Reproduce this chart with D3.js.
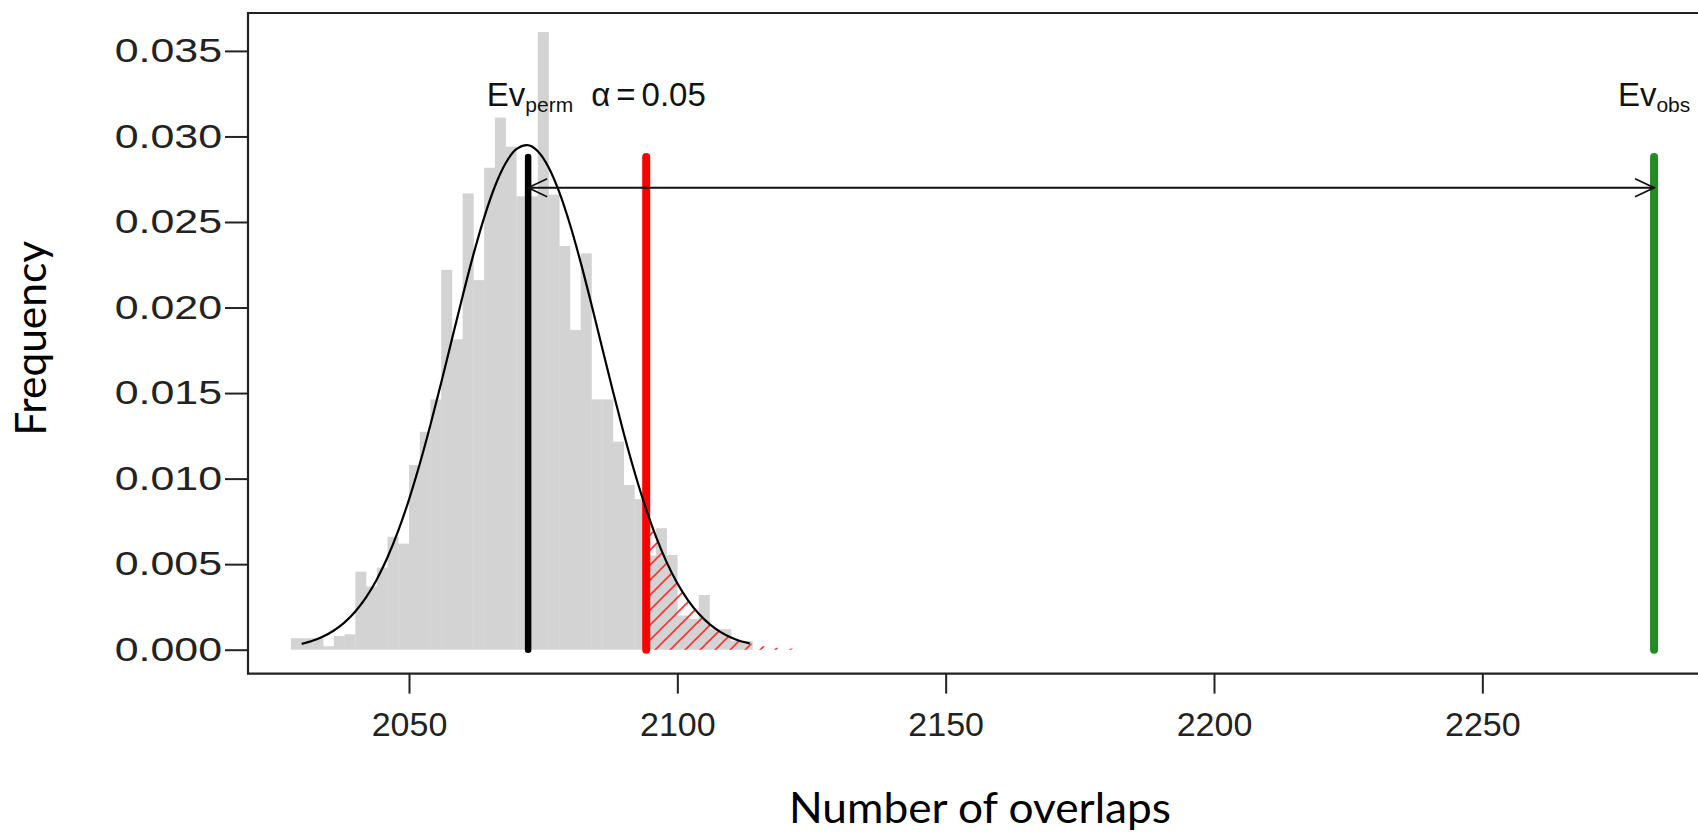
<!DOCTYPE html>
<html>
<head>
<meta charset="utf-8">
<script src="https://cdn.jsdelivr.net/npm/d3@7"></script>
<style>
  html, body { margin: 0; padding: 0; background: #ffffff; }
  svg { display: block; }
</style>
</head>
<body>
<svg id="chart" width="1698" height="839"></svg>
<script>
// ---------------- data ----------------
// histogram bin centres (bin width 2) and densities
const binCenters = [2029, 2031, 2033, 2035, 2037, 2039, 2041, 2043, 2045, 2047, 2049,
  2051, 2053, 2055, 2057, 2059, 2061, 2063, 2065, 2067, 2069, 2071, 2073, 2075, 2077,
  2079, 2081, 2083, 2085, 2087, 2089, 2091, 2093, 2095, 2097, 2099, 2101, 2103, 2105,
  2107, 2109, 2111, 2113];
const binDensity = [0.00067, 0.00067, 0.00067, 0.0002, 0.0008, 0.0009, 0.00456, 0.0037, 0.0048, 0.0066, 0.0062,
  0.0108, 0.01274, 0.01463, 0.0222, 0.01814, 0.02667, 0.0216, 0.02817, 0.0311, 0.0294, 0.0265, 0.0265, 0.0361, 0.0266,
  0.0236, 0.01869, 0.02317, 0.01463, 0.01463, 0.01216, 0.00963, 0.0088, 0.0055, 0.0071, 0.00553, 0.0020, 0.0018, 0.0032,
  0.0012, 0.0012, 0.0005, 0.0005];
const binWidth = 2;

// fitted density curve
const curveX = [2030, 2032, 2034, 2036, 2038, 2040, 2042, 2044, 2046, 2048, 2050, 2052, 2054, 2056, 2058,
  2060, 2062, 2064, 2066, 2068, 2070, 2072, 2074, 2076, 2078, 2080, 2082, 2084, 2086, 2088, 2090,
  2092, 2094, 2096, 2098, 2100, 2102, 2104, 2106, 2108, 2110, 2112, 2113.5];
const curveY = [0.000342, 0.000519, 0.000771, 0.001122, 0.0016, 0.002236, 0.003062, 0.004108, 0.0054, 0.006955,
  0.008776, 0.010851, 0.013147, 0.015603, 0.018148, 0.02068, 0.02309, 0.025259, 0.027074, 0.028433, 0.029257,
  0.029497, 0.029138, 0.028202, 0.026744, 0.02485, 0.022623, 0.02018, 0.017637, 0.015103, 0.012672, 0.010418,
  0.008391, 0.006622, 0.005121, 0.00388, 0.00288, 0.002095, 0.001493, 0.001042, 0.000713, 0.000478, 0.00037];
// thin tail of the rejection region beyond the drawn curve
const tailX = [2116, 2118, 2120, 2122];
const tailY = [0.0002, 0.00013, 0.00008, 0.00005];

// reference lines
const evPerm = 2072.2;     // mean of permutations
const alphaCut = 2094.2;   // alpha = 0.05 threshold
const evObs = 2282;        // observed value
const lineTop = 0.0288;
const arrowLevel = 0.027;

const xTicks = [2050, 2100, 2150, 2200, 2250];
const yTicks = [0, 0.005, 0.010, 0.015, 0.020, 0.025, 0.030, 0.035];
const xTitle = "Number of overlaps";
const yTitle = "Frequency";

// ---------------- layout ----------------
const svg = d3.select("#chart");
const plotLeft = 248, plotTop = 13, plotBottom = 673.6, plotRight = 1720;
const x = d3.scaleLinear().domain([2020, 2290]).range([248, 1697]);
const y = d3.scaleLinear().domain([0, 0.035]).range([649.7, 50.9]);
const rFont = "'Liberation Sans', Arial, sans-serif";
const titleFont = "Lato, 'Open Sans', sans-serif";

// hatch pattern
const defs = svg.append("defs");
const pat = defs.append("pattern").attr("id", "hatch")
  .attr("patternUnits", "userSpaceOnUse").attr("width", 15).attr("height", 15);
pat.append("path").attr("d", "M-2,2 L2,-2 M0,15 L15,0 M13,17 L17,13")
  .attr("stroke", "#ff3030").attr("stroke-width", 1.6).attr("fill", "none");

// histogram bars
svg.append("g").selectAll("rect")
  .data(binCenters.map((c, i) => ({ c, v: binDensity[i] })))
  .join("rect")
  .attr("x", d => x(d.c - binWidth / 2))
  .attr("width", d => x(d.c + binWidth / 2) - x(d.c - binWidth / 2) + 0.3)
  .attr("y", d => y(d.v))
  .attr("height", d => y(0) - y(d.v))
  .attr("fill", "#d3d3d3");

// hatched rejection region
const curvePts = curveX.map((v, i) => ({ x: v, y: curveY[i] }));
const hatchPts = curvePts.filter(p => p.x >= 2094)
  .concat(tailX.map((v, i) => ({ x: v, y: tailY[i] })));
svg.append("path")
  .datum(hatchPts)
  .attr("d", d3.area().x(d => x(d.x)).y0(y(0)).y1(d => y(d.y)).curve(d3.curveMonotoneX))
  .attr("fill", "url(#hatch)");

// vertical lines
const vlines = [
  { v: evPerm, color: "#000000", w: 6.5 },
  { v: alphaCut, color: "#ff0000", w: 8 },
  { v: evObs, color: "#228b22", w: 8 }
];
svg.append("g").selectAll("line").data(vlines).join("line")
  .attr("x1", d => x(d.v)).attr("x2", d => x(d.v))
  .attr("y1", y(0)).attr("y2", y(lineTop))
  .attr("stroke", d => d.color).attr("stroke-width", d => d.w)
  .attr("stroke-linecap", "round");

// density curve
svg.append("path")
  .datum(curvePts)
  .attr("d", d3.line().x(d => x(d.x)).y(d => y(d.y)).curve(d3.curveMonotoneX))
  .attr("fill", "none").attr("stroke", "#000").attr("stroke-width", 2.2);

// double arrow
const ay = y(arrowLevel), ax1 = x(evPerm), ax2 = x(evObs);
const headLen = 19, headHalf = 9;
const arrowG = svg.append("g").attr("stroke", "#111").attr("stroke-width", 1.8).attr("fill", "none");
arrowG.append("line").attr("x1", ax1).attr("x2", ax2).attr("y1", ay).attr("y2", ay);
arrowG.append("path").attr("d", `M${ax1 + headLen},${ay - headHalf} L${ax1},${ay} L${ax1 + headLen},${ay + headHalf}`);
arrowG.append("path").attr("d", `M${ax2 - headLen},${ay - headHalf} L${ax2},${ay} L${ax2 - headLen},${ay + headHalf}`);

// annotations
const annY = y(0.0318);
const t1 = svg.append("text").attr("x", x(2064.5)).attr("y", annY)
  .attr("font-family", rFont).attr("font-size", 33).attr("fill", "#111");
t1.append("tspan").text("Ev");
t1.append("tspan").attr("font-size", 21).attr("dy", 6).text("perm");
t1.append("tspan").attr("dy", -6).attr("dx", 18).text("α");
t1.append("tspan").attr("dx", 6).text("=");
t1.append("tspan").attr("dx", 6).text("0.05");

const t2 = svg.append("text").attr("x", x(evObs)).attr("y", annY)
  .attr("text-anchor", "middle")
  .attr("font-family", rFont).attr("font-size", 33).attr("fill", "#111");
t2.append("tspan").text("Ev");
t2.append("tspan").attr("font-size", 21).attr("dy", 6).text("obs");

// box
svg.append("path")
  .attr("d", `M${plotRight},${plotTop} L${plotLeft},${plotTop} L${plotLeft},${plotBottom} L${plotRight},${plotBottom}`)
  .attr("fill", "none").attr("stroke", "#222").attr("stroke-width", 2.2);

// axes
const yAxis = svg.append("g").attr("transform", `translate(${plotLeft},0)`)
  .call(d3.axisLeft(y).tickValues(yTicks).tickSize(23).tickPadding(3).tickFormat(d3.format(".3f")));
const xAxis = svg.append("g").attr("transform", `translate(0,${plotBottom})`)
  .call(d3.axisBottom(x).tickValues(xTicks).tickSize(20).tickPadding(18).tickFormat(d3.format("d")));
[yAxis, xAxis].forEach(g => {
  g.select(".domain").remove();
  g.selectAll(".tick line").attr("stroke", "#222").attr("stroke-width", 2);
  g.selectAll(".tick text").attr("font-family", rFont).attr("fill", "#222");
});
xAxis.selectAll(".tick text").attr("font-size", 34);
// y labels in the reference are horizontally stretched
yAxis.selectAll(".tick text")
  .attr("font-size", 33)
  .each(function () {
    const t = d3.select(this);
    const tx = +t.attr("x");
    t.attr("x", 0).attr("transform", `translate(${tx},0) scale(1.3,1)`);
  });

// titles
svg.append("text").attr("x", x(2020) + 732).attr("y", 823)
  .attr("text-anchor", "middle").attr("font-family", titleFont).attr("font-size", 42)
  .attr("fill", "#000").attr("textLength", 382).attr("lengthAdjust", "spacingAndGlyphs")
  .text(xTitle);
svg.append("text").attr("transform", `translate(46,${y(0.0182)}) rotate(-90)`)
  .attr("text-anchor", "middle").attr("font-family", titleFont).attr("font-size", 42)
  .attr("fill", "#000").attr("textLength", 195).attr("lengthAdjust", "spacingAndGlyphs")
  .text(yTitle);
</script>
</body>
</html>
